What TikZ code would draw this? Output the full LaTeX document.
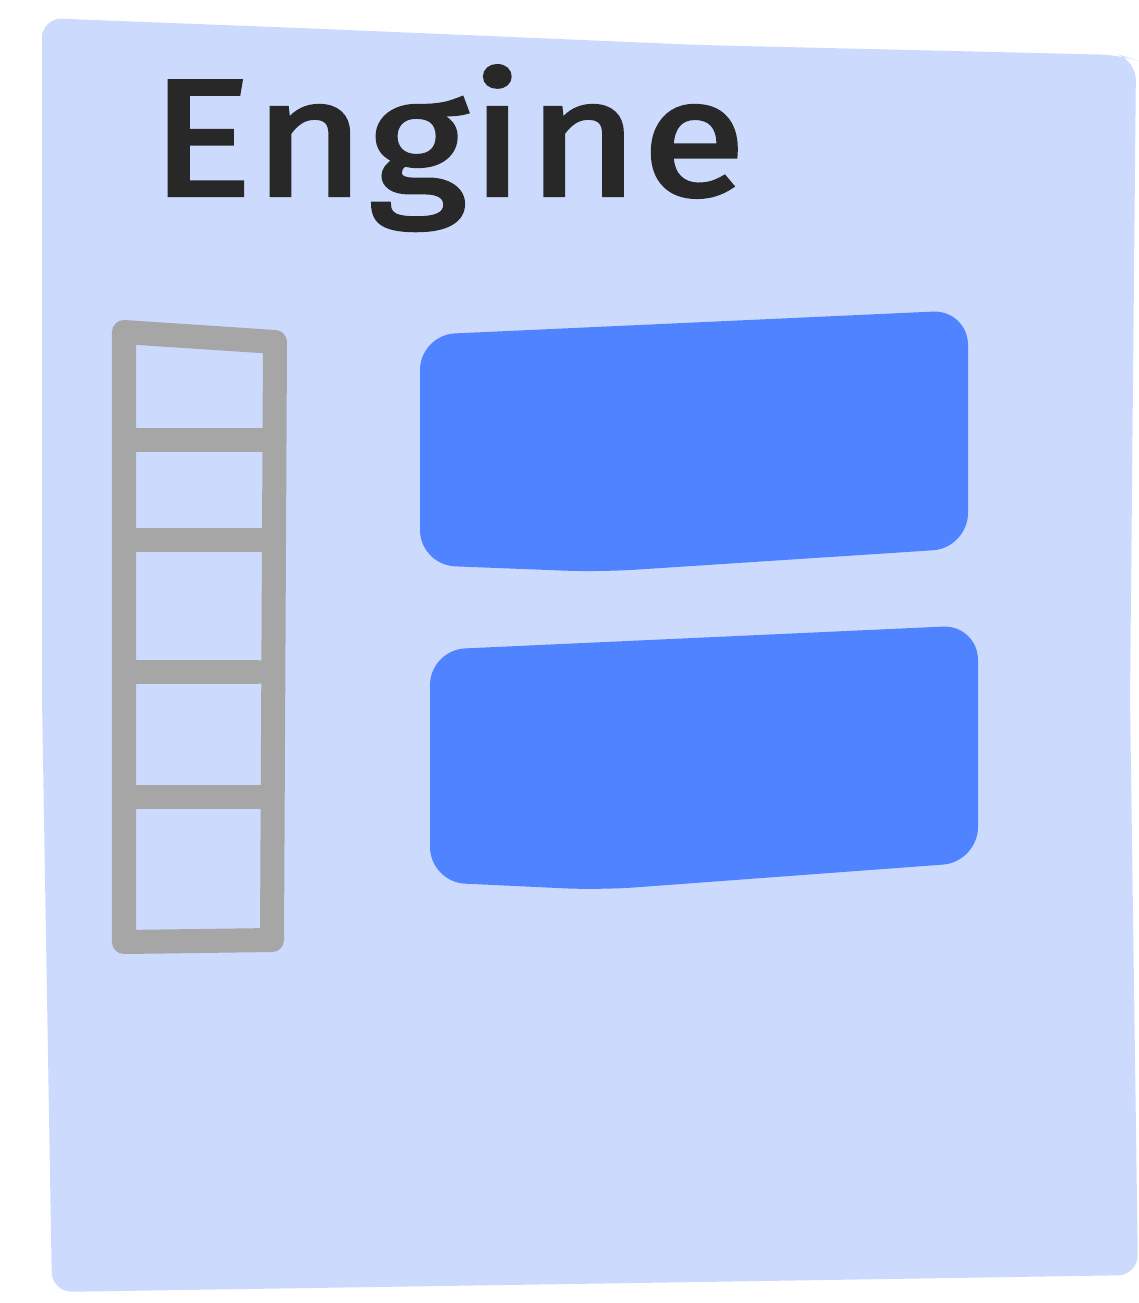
\documentclass[tikz,border=0pt]{standalone}
\usepackage{fontspec}
\setmainfont{Fira Sans}
\definecolor{panel}{HTML}{CCDAFD}
\definecolor{slot}{HTML}{5083FF}
\definecolor{rail}{HTML}{A6A6A6}
\definecolor{ink}{HTML}{282828}

\begin{document}
\begin{tikzpicture}[x=0.01cm,y=-0.01cm,
every node/.style={inner sep=0pt},
rungline/.style={draw=rail,line width=0.24cm,line cap=round,line join=round},
slotbox/.style={fill=slot,rounded corners=0.35cm}]
\useasboundingbox (0,0) rectangle (1138,1303);
% panel
\fill[panel,rounded corners=0.2cm] (42,18) -- (300,28) -- (700,45) -- (1120,55)
  -- (1136,60) -- (1130,700) -- (1138,1275) -- (700,1282) -- (52,1292) -- (42,700) -- (42,50) -- cycle;
% title
\node[anchor=base west,text=ink,font=\fontsize{47}{56}\selectfont\addfontfeatures{FakeBold=2.5,FakeStretch=1.15,LetterSpace=2}] (title) at (150,195) {Engine};
% ladder
\draw[rungline] (124,332) -- (275,342) -- (272,940) -- (124,942) -- cycle;
\foreach \y/\x in {440/272,540/272,672/258,797/272}
  \draw[rungline] (130,\y) -- (\x,\y);
% slots
\fill[slotbox] (420,335) -- (968,310) -- (968,548) -- (600,572) -- (420,565) -- cycle;
\fill[slotbox] (430,650) -- (978,625) -- (978,862) -- (600,890) -- (430,882) -- cycle;
\end{tikzpicture}
\end{document}
